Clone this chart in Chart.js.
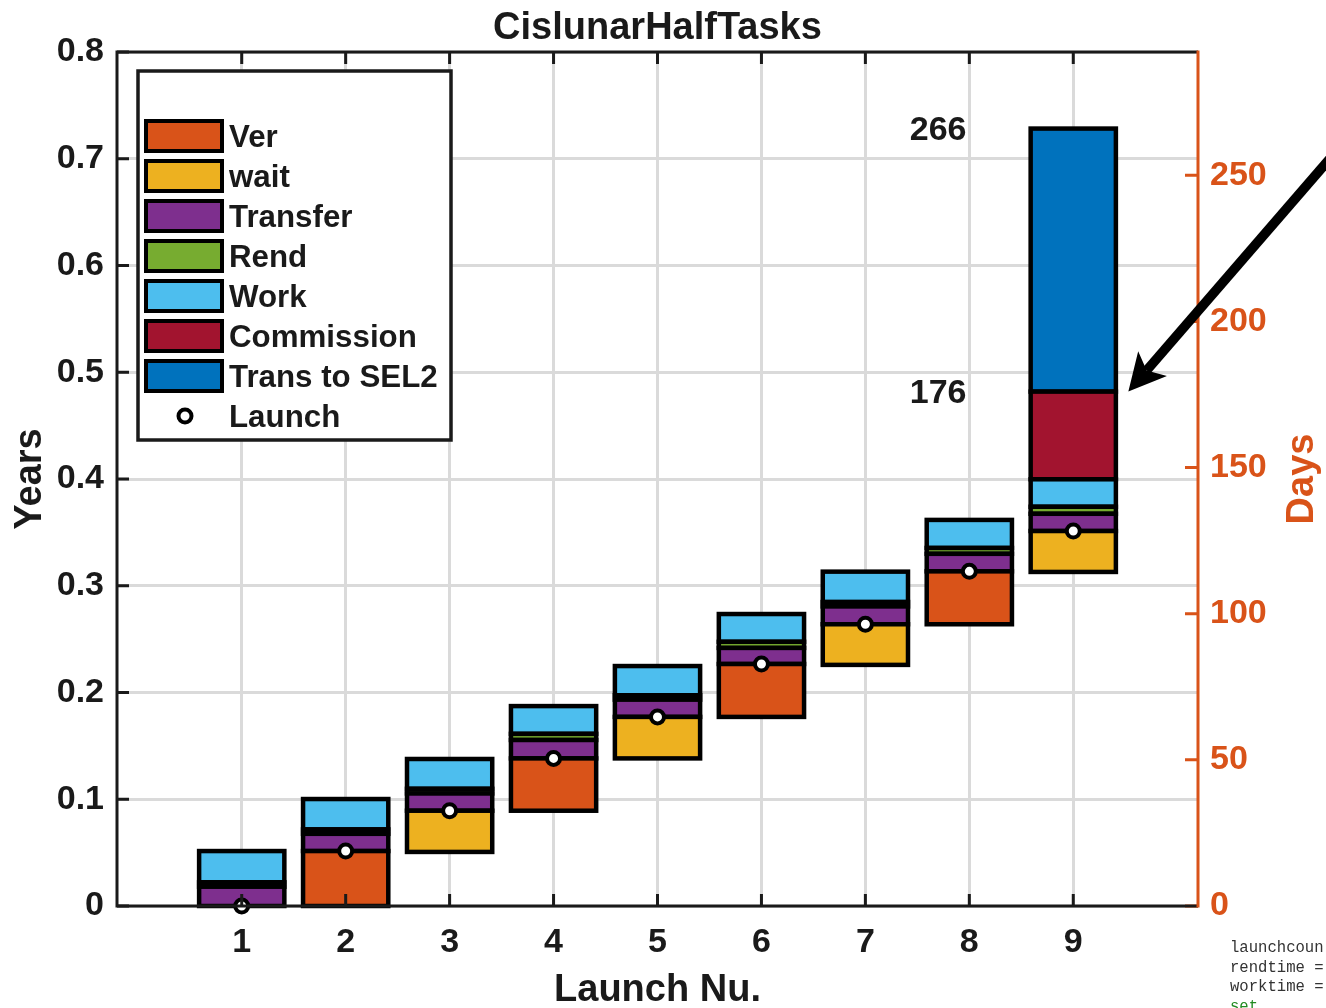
<!DOCTYPE html>
<html>
<head>
<meta charset="utf-8">
<title>CislunarHalfTasks</title>
<script src="https://cdn.jsdelivr.net/npm/chart.js@4.4.0/dist/chart.umd.min.js"></script>
<style>
  html, body { margin: 0; padding: 0; background: #fff; overflow: hidden; }
  #wrap { position: relative; width: 1326px; height: 1008px; }
  #c { position: absolute; left: 0; top: 0; }
  #code {
    position: absolute; left: 1230px; top: 939px;
    font: 15.6px "Liberation Mono", "DejaVu Sans Mono", monospace;
    line-height: 19.5px; color: #333; white-space: pre;
  }
  #code .kw { color: #228B22; }
</style>
</head>
<body>
<div id="wrap">
  <canvas id="c" width="1326" height="1008"></canvas>
  <div id="code">launchcoun
rendtime =
worktime =
<span class="kw">set</span></div>
</div>
<script>
// ---- data (durations in days) ----
const categories     = ['1', '2', '3', '4', '5', '6', '7', '8', '9'];
const launchDays     = [0, 18.8, 32.6, 50.5, 64.7, 82.8, 96.4, 114.5, 128.3];
const verDays        = [null, 18.8, null, 17.9, null, 18.1, null, 18.1, null];
const waitDays       = [null, null, 14.1, null, 14.2, null, 13.9, null, 14.0];
const transferDays   = [6.6, 5.9, 5.9, 6.3, 5.9, 5.5, 6.1, 6.0, 5.9];
const rendDays       = [1.5, 1.5, 1.6, 2.1, 1.5, 2.1, 1.5, 2.0, 2.4];
const workDays       = [10.7, 10.4, 10.2, 9.5, 10.0, 9.5, 10.4, 9.6, 9.4];
const commissionDays = [null, null, null, null, null, null, null, null, 30];
const sel2Days       = [null, null, null, null, null, null, null, null, 90];

const seriesNames = ['Ver', 'wait', 'Transfer', 'Rend', 'Work', 'Commission', 'Trans to SEL2'];
const launchName  = 'Launch';

// axis ticks
const yearTicks = [0, 0.1, 0.2, 0.3, 0.4, 0.5, 0.6, 0.7, 0.8];
const dayTicks  = [0, 50, 100, 150, 200, 250];
const DAYS_PER_YEAR = 365.25;

// ---- styling ----
const seriesColors = ['#D95319', '#EDB120', '#7E2F8E', '#77AC30', '#4DBEEE', '#A2142F', '#0072BD'];
const ORANGE = '#D95319';
const INK = '#1a1a1a';
const GRID = '#dadada';
const FONT = '"Liberation Sans", Arial, Helvetica, sans-serif';

// ---- build floating segments: pre-launch phase below, mission phases stacked above ----
const ranges = seriesNames.map(() => []);
const phaseTops = categories.map(() => ({}));
categories.forEach((c, i) => {
  const x = i + 1;
  const L = launchDays[i];
  if (verDays[i] != null) ranges[0].push({ x, y: [L - verDays[i], L] });
  if (waitDays[i] != null) ranges[1].push({ x, y: [L - waitDays[i], L] });
  let t = L;
  [[2, transferDays], [3, rendDays], [4, workDays], [5, commissionDays], [6, sel2Days]].forEach(([k, arr]) => {
    const d = arr[i];
    if (d == null) return;
    ranges[k].push({ x, y: [t, t + d] });
    t += d;
    phaseTops[i][k] = t;
  });
});
const launchPoints = categories.map((c, i) => ({ x: i + 1, y: launchDays[i] }));

// value labels on the last launch: end of commissioning and arrival at SEL2
const lastIdx = categories.length - 1;
const valueLabels = [
  { x: 7.7, y: phaseTops[lastIdx][6] },
  { x: 7.7, y: phaseTops[lastIdx][5] }
];
// pointer arrow (data coordinates: launch number, days)
const arrowTail = { x: 11.5, y: 257 };
const arrowTip  = { x: 9.53, y: phaseTops[lastIdx][5] };

const datasets = seriesNames.map((name, k) => ({
  type: 'bar',
  label: name,
  data: ranges[k],
  xAxisID: 'x',
  yAxisID: 'yDays',
  backgroundColor: seriesColors[k],
  borderWidth: 0,
  grouped: false,
  barPercentage: 0.82,
  categoryPercentage: 1.0,
  order: 2
}));
datasets.push({
  type: 'scatter',
  label: launchName,
  data: launchPoints,
  xAxisID: 'x',
  yAxisID: 'yDays',
  pointStyle: 'circle',
  pointRadius: 6.5,
  pointBorderWidth: 4,
  pointBackgroundColor: '#ffffff',
  pointBorderColor: '#000000',
  showLine: false,
  clip: false,
  order: 1
});

const tickFont = { family: FONT, size: 34, weight: 'bold' };

// black outlines round each bar segment, centred on its edges
const outlinePlugin = {
  id: 'segmentOutline',
  afterDatasetDraw(chart, args) {
    if (args.meta.type !== 'bar') return;
    const ctx = chart.ctx;
    ctx.save();
    ctx.strokeStyle = '#000';
    ctx.lineWidth = 4.5;
    args.meta.data.forEach(el => {
      const p = el.getProps(['x', 'y', 'base', 'width'], true);
      const top = Math.min(p.y, p.base);
      ctx.strokeRect(p.x - p.width / 2, top, p.width, Math.abs(p.y - p.base));
    });
    ctx.restore();
  }
};

// axes box, inward ticks, annotations, legend and titles
const decorPlugin = {
  id: 'decor',
  afterDatasetsDraw(chart) {
    const ctx = chart.ctx;
    const a = chart.chartArea;
    const sx = chart.scales.x, sy = chart.scales.y, sd = chart.scales.yDays;
    const TL = 12;
    ctx.save();

    // inward ticks
    ctx.lineWidth = 3;
    ctx.strokeStyle = INK;
    ctx.beginPath();
    categories.forEach((c, i) => {
      const px = sx.getPixelForValue(i + 1);
      ctx.moveTo(px, a.bottom); ctx.lineTo(px, a.bottom - TL);
      ctx.moveTo(px, a.top); ctx.lineTo(px, a.top + TL);
    });
    yearTicks.forEach(v => {
      const py = sy.getPixelForValue(v);
      ctx.moveTo(a.left, py); ctx.lineTo(a.left + TL, py);
    });
    ctx.stroke();
    ctx.strokeStyle = ORANGE;
    ctx.beginPath();
    dayTicks.forEach(v => {
      const py = sd.getPixelForValue(v);
      ctx.moveTo(a.right, py); ctx.lineTo(a.right - TL - 1, py);
    });
    ctx.stroke();

    // axis lines
    ctx.lineWidth = 3;
    ctx.strokeStyle = INK;
    ctx.beginPath();
    ctx.moveTo(a.right, a.top); ctx.lineTo(a.left, a.top);
    ctx.lineTo(a.left, a.bottom); ctx.lineTo(a.right, a.bottom);
    ctx.stroke();
    ctx.strokeStyle = ORANGE;
    ctx.beginPath();
    ctx.moveTo(a.right, a.top - 1.5); ctx.lineTo(a.right, a.bottom + 1.5);
    ctx.stroke();

    // value labels
    ctx.fillStyle = INK;
    ctx.font = `bold 34px ${FONT}`;
    ctx.textAlign = 'center';
    ctx.textBaseline = 'middle';
    valueLabels.forEach(l => {
      ctx.fillText(String(Math.round(l.y)), sx.getPixelForValue(l.x), sd.getPixelForValue(l.y) + 2);
    });

    // arrow
    const tx = sx.getPixelForValue(arrowTip.x), ty = sd.getPixelForValue(arrowTip.y);
    const fx = sx.getPixelForValue(arrowTail.x), fy = sd.getPixelForValue(arrowTail.y);
    const len = Math.hypot(tx - fx, ty - fy);
    const ux = (tx - fx) / len, uy = (ty - fy) / len;
    const nx = -uy, ny = ux;
    const headLen = 37, headHalf = 19, notch = 28;
    ctx.strokeStyle = '#000';
    ctx.fillStyle = '#000';
    ctx.lineWidth = 9.5;
    ctx.beginPath();
    ctx.moveTo(fx, fy);
    ctx.lineTo(tx - ux * notch, ty - uy * notch);
    ctx.stroke();
    ctx.beginPath();
    ctx.moveTo(tx, ty);
    ctx.lineTo(tx - ux * headLen + nx * headHalf, ty - uy * headLen + ny * headHalf);
    ctx.lineTo(tx - ux * notch, ty - uy * notch);
    ctx.lineTo(tx - ux * headLen - nx * headHalf, ty - uy * headLen - ny * headHalf);
    ctx.closePath();
    ctx.fill();

    // legend
    const lx = a.left + 21, ly = a.top + 19, lw = 313, lh = 369;
    ctx.fillStyle = '#fff';
    ctx.fillRect(lx, ly, lw, lh);
    ctx.lineWidth = 3.5;
    ctx.strokeStyle = INK;
    ctx.strokeRect(lx, ly, lw, lh);
    ctx.font = `bold 31.3px ${FONT}`;
    ctx.textAlign = 'left';
    ctx.textBaseline = 'alphabetic';
    chart.data.datasets.forEach((ds, k) => {
      const cy = ly + 65 + k * 40;
      if (ds.type === 'bar') {
        ctx.fillStyle = ds.backgroundColor;
        ctx.fillRect(lx + 8, cy - 15, 76, 30);
        ctx.lineWidth = 4;
        ctx.strokeStyle = '#000';
        ctx.strokeRect(lx + 8, cy - 15, 76, 30);
      } else {
        ctx.beginPath();
        ctx.arc(lx + 47, cy, 6.5, 0, Math.PI * 2);
        ctx.fillStyle = '#fff';
        ctx.fill();
        ctx.lineWidth = 4;
        ctx.strokeStyle = '#000';
        ctx.stroke();
      }
      ctx.fillStyle = INK;
      ctx.fillText(ds.label, lx + 91, cy + 11);
    });

    // titles
    ctx.fillStyle = INK;
    ctx.font = `bold 38px ${FONT}`;
    ctx.textAlign = 'center';
    ctx.textBaseline = 'alphabetic';
    ctx.fillText('CislunarHalfTasks', (a.left + a.right) / 2, a.top - 13);
    ctx.fillText('Launch Nu.', (a.left + a.right) / 2, 1001);
    ctx.save();
    ctx.translate(41, (a.top + a.bottom) / 2);
    ctx.rotate(-Math.PI / 2);
    ctx.fillText('Years', 0, 0);
    ctx.restore();
    ctx.save();
    ctx.fillStyle = ORANGE;
    ctx.translate(1313, (a.top + a.bottom) / 2);
    ctx.rotate(-Math.PI / 2);
    ctx.fillText('Days', 0, 0);
    ctx.restore();

    ctx.restore();
  }
};

new Chart(document.getElementById('c'), {
  type: 'bar',
  data: { datasets },
  plugins: [outlinePlugin, decorPlugin],
  options: {
    responsive: false,
    animation: false,
    devicePixelRatio: 1,
    layout: { padding: { top: 52, left: 0, right: 0, bottom: 0 } },
    plugins: { legend: { display: false }, tooltip: { enabled: false }, title: { display: false } },
    scales: {
      x: {
        type: 'linear',
        position: 'bottom',
        min: -0.2,
        max: 10.2,
        offset: false,
        afterBuildTicks: s => { s.ticks = categories.map((c, i) => ({ value: i + 1 })); },
        afterFit: s => { s.height = 102; },
        ticks: {
          callback: (v, i) => categories[i],
          font: tickFont, color: INK, padding: 16,
          maxRotation: 0, autoSkip: false
        },
        grid: { color: GRID, lineWidth: 3, drawTicks: false, offset: false },
        border: { display: false }
      },
      y: {
        type: 'linear',
        position: 'left',
        min: yearTicks[0],
        max: yearTicks[yearTicks.length - 1],
        afterBuildTicks: s => { s.ticks = yearTicks.map(v => ({ value: v })); },
        afterFit: s => { s.width = 117; },
        ticks: {
          callback: v => (v === 0 ? '0' : v.toFixed(1)),
          font: tickFont, color: INK, padding: 13
        },
        grid: { color: GRID, lineWidth: 3, drawTicks: false },
        border: { display: false }
      },
      yDays: {
        type: 'linear',
        position: 'right',
        min: 0,
        max: yearTicks[yearTicks.length - 1] * DAYS_PER_YEAR,
        afterBuildTicks: s => { s.ticks = dayTicks.map(v => ({ value: v })); },
        afterFit: s => { s.width = 128; },
        ticks: { font: tickFont, color: ORANGE, padding: 12 },
        grid: { display: false, drawTicks: false },
        border: { display: false }
      }
    }
  }
});
</script>
</body>
</html>
